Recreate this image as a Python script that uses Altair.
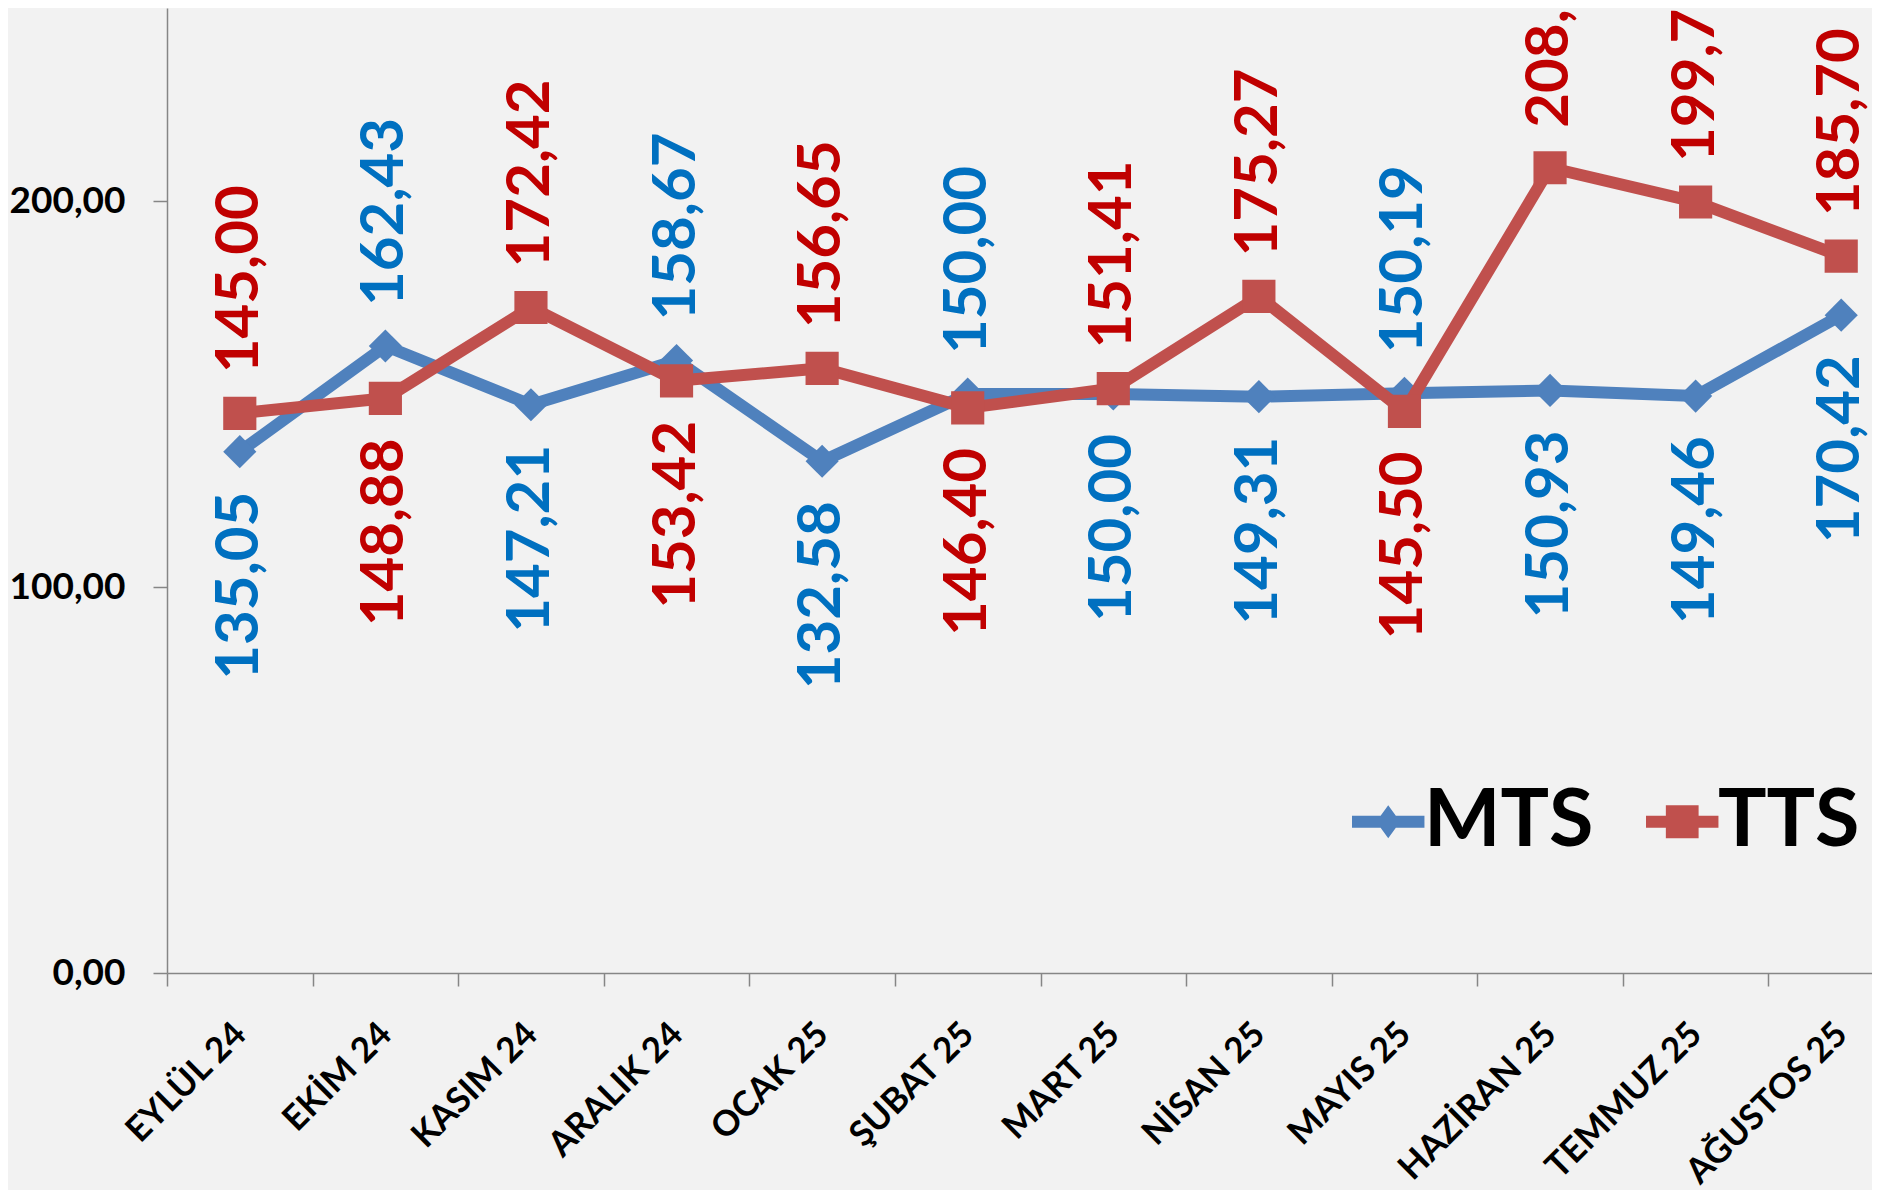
import altair as alt
import pandas as pd

months = ["EYLÜL 24", "EKİM 24", "KASIM 24", "ARALIK 24", "OCAK 25", "ŞUBAT 25",
          "MART 25", "NİSAN 25", "MAYIS 25", "HAZİRAN 25", "TEMMUZ 25", "AĞUSTOS 25"]
mts = [135.05, 162.43, 147.21, 158.67, 132.58, 150.00, 150.00, 149.31, 150.19, 150.93, 149.46, 170.42]
tts = [145.00, 148.88, 172.42, 153.42, 156.65, 146.40, 151.41, 175.27, 145.50, 208.62, 199.75, 185.70]
series_names = ["MTS", "TTS"]
y_ticks = [0, 100, 200]

rows = []
for i, m in enumerate(months):
    for s, vals, other in (("MTS", mts, tts), ("TTS", tts, mts)):
        v = vals[i]
        rows.append({"ay": m, "seri": s, "deger": v,
                     "etiket": f"{v:.2f}".replace(".", ","),
                     "ust": bool(v >= other[i])})
df = pd.DataFrame(rows)

line_colors = {"MTS": "#4F81BD", "TTS": "#C0504D"}
label_colors = {"MTS": "#0070C0", "TTS": "#C00000"}
shapes = {"MTS": "diamond", "TTS": "square"}
sizes = {"MTS": 1100, "TTS": 1100}
FONT = "Lato"

x = alt.X("ay:N", sort=months,
          scale=alt.Scale(type="band", domain=months, range=[0, 1747], paddingInner=0, paddingOuter=0),
          axis=alt.Axis(title=None, tickBand="extent", tickSize=13, tickColor="#868686",
                        domainColor="#868686", domainWidth=1.5, tickWidth=1.5, grid=False,
                        labelAngle=315, labelAlign="right", labelBaseline="middle",
                        labelPadding=42, labelFont=FONT, labelFontSize=35,
                        labelFontWeight="bold", labelColor="black", labelLimit=0))
y = alt.Y("deger:Q", scale=alt.Scale(domain=[0, 250], nice=False, zero=True),
          axis=alt.Axis(title=None, values=y_ticks, tickSize=14, tickColor="#868686",
                        domainColor="#868686", domainWidth=1.5, tickWidth=1.5, grid=False,
                        labelExpr="replace(format(datum.value, '.2f'), '.', ',')",
                        labelPadding=28, labelFont=FONT, labelFontSize=37,
                        labelFontWeight="bold", labelColor="black"))

base = alt.Chart(df)
layers = []
for s in series_names:
    b = base.transform_filter(alt.datum.seri == s)
    layers.append(b.mark_line(color=line_colors[s], strokeWidth=12, strokeJoin="round",
                              strokeCap="round").encode(x=x, y=y))
    layers.append(b.mark_point(shape=shapes[s], filled=True, size=sizes[s], color=line_colors[s],
                               opacity=1).encode(x=x, y=y))
for s in series_names:
    b = base.transform_filter(alt.datum.seri == s)
    common = dict(angle=270, baseline="middle", font=FONT, fontSize=60, fontWeight="bold",
                  color=label_colors[s])
    layers.append(b.transform_filter("datum.ust").mark_text(align="left", dx=40, **common)
                  .encode(x=x, y=y, text="etiket:N"))
    layers.append(b.transform_filter("!datum.ust").mark_text(align="right", dx=-40, **common)
                  .encode(x=x, y=y, text="etiket:N"))

# legend glyphs: line with marker, in Vega's [-1, 1] symbol space (stretched right to meet label)
path_m = "M-1,-0.19H1.3V0.19H-1Z M0.15,-0.52L0.53,0L0.15,0.52L-0.23,0Z"
path_t = "M-1,-0.19H1.3V0.19H-1Z M-0.37,-0.52H0.67V0.52H-0.37Z"
leg = alt.Legend(title=None, orient="none", legendX=1176, legendY=773, direction="horizontal",
                 symbolSize=3969, symbolOpacity=1, symbolStrokeWidth=0,
                 labelFont=FONT, labelFontSize=81, labelFontWeight="bold", labelColor="black",
                 labelOffset=0, columnPadding=43, padding=0, labelLimit=500)
layers.append(base.mark_point(filled=True, opacity=0).encode(
    x=x, y=y,
    color=alt.Color("seri:N", scale=alt.Scale(domain=series_names,
                                              range=[line_colors[s] for s in series_names]), legend=leg),
    shape=alt.Shape("seri:N", scale=alt.Scale(domain=series_names, range=[path_m, path_t]), legend=leg)))

chart = alt.layer(*layers).properties(
    width=1705, height=965,
    autosize=alt.AutoSizeParams(type="none"),
    padding={"left": 159, "top": 0, "right": 0, "bottom": 217},
).configure(background="#f2f2f2").configure_view(stroke=None)

chart.save("out.html", embed_options={"renderer": "svg", "actions": False})
